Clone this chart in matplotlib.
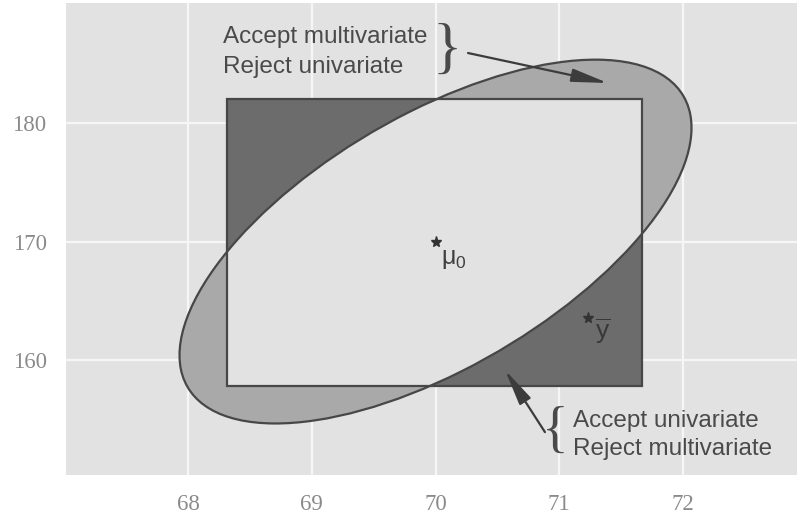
import numpy as np
import matplotlib
matplotlib.use("Agg")
import matplotlib.pyplot as plt
from matplotlib.patches import Ellipse, Rectangle

plt.rcParams['mathtext.fontset'] = 'custom'
plt.rcParams['mathtext.rm'] = 'Liberation Sans'
plt.rcParams['mathtext.it'] = 'Liberation Sans'

# hypothesised mean and sample mean
mu0 = [70.0, 170.0]
ybar = [71.23, 163.55]

# univariate acceptance limits (rectangle)
x_limits = [68.31, 71.67]
y_limits = [157.8, 182.0]

# multivariate acceptance ellipse: half extents along x and y, correlation
half_x = 2.07
half_y = 15.35
rho = 0.625

x_ticks = [68, 69, 70, 71, 72]
y_ticks = [160, 170, 180]

bg = '#e2e2e2'
dark = '#6c6c6c'
light = '#a9a9a9'
edge = '#474747'
txt = '#4a4a4a'

# ellipse from the covariance matrix
cov = np.array([[half_x**2, rho * half_x * half_y],
                [rho * half_x * half_y, half_y**2]])
vals, vecs = np.linalg.eigh(cov)
angle = np.degrees(np.arctan2(vecs[1, 1], vecs[0, 1]))
ell_w = 2 * np.sqrt(vals[1])
ell_h = 2 * np.sqrt(vals[0])

fig = plt.figure(figsize=(7.97, 5.2), dpi=100)
ax = fig.add_axes([0.0828, 0.0865, 0.9172, 0.9077])
ax.set_facecolor(bg)
ax.set_xlim(67.012, 72.923)
ax.set_ylim(150.30, 190.13)

ax.set_xticks(x_ticks)
ax.set_yticks(y_ticks)
ax.grid(True, color='#f6f6f6', linewidth=1.6)
ax.set_axisbelow(True)
for s in ax.spines.values():
    s.set_visible(False)
ax.tick_params(length=0, colors='#8a8a8a', labelsize=16.5, pad=14)
for lab in ax.get_xticklabels() + ax.get_yticklabels():
    lab.set_fontfamily('Liberation Serif')

rw = x_limits[1] - x_limits[0]
rh = y_limits[1] - y_limits[0]

# rectangle outside ellipse -> dark
ax.add_patch(Rectangle((x_limits[0], y_limits[0]), rw, rh,
                       facecolor=dark, edgecolor='none', zorder=2))
# ellipse outside rectangle -> light
ell = Ellipse(mu0, ell_w, ell_h, angle=angle, facecolor=light,
              edgecolor='none', zorder=3)
ax.add_patch(ell)
# inside both -> background
inner = Rectangle((x_limits[0], y_limits[0]), rw, rh,
                  facecolor=bg, edgecolor='none', zorder=4)
ax.add_patch(inner)
inner.set_clip_path(ell)

# outlines
ax.add_patch(Rectangle((x_limits[0], y_limits[0]), rw, rh,
                       facecolor='none', edgecolor=edge, linewidth=1.6, zorder=5))
ax.add_patch(Ellipse(mu0, ell_w, ell_h, angle=angle, facecolor='none',
                     edgecolor=edge, linewidth=1.6, zorder=5))

# points
ax.plot(*mu0, marker='*', color='#333333', markersize=8, zorder=6)
ax.plot(*ybar, marker='*', color='#333333', markersize=8, zorder=6)
ax.text(70.044, 169.5, r'$\mathrm{\mu}_0$', fontsize=18, color='#404040',
        va='top', ha='left', zorder=6)
ax.text(71.29, 163.7, r'$\overline{\mathrm{y}}$', fontsize=19, color='#383838',
        va='top', ha='left', zorder=6)

# annotations
font = dict(family='Liberation Sans', fontsize=17.5, color=txt)
ax.text(68.28, 186.75, 'Accept multivariate', va='baseline', ha='left', **font)
ax.text(68.28, 184.22, 'Reject univariate', va='baseline', ha='left', **font)
ax.text(70.09, 186.0, '}', va='center', ha='center',
        family='Liberation Serif', fontsize=44, color=txt)

ax.text(71.11, 154.35, 'Accept univariate', va='baseline', ha='left', **font)
ax.text(71.11, 151.98, 'Reject multivariate', va='baseline', ha='left', **font)
ax.text(70.97, 153.84, '{', va='center', ha='center',
        family='Liberation Serif', fontsize=40, color=txt)

arrow = dict(arrowstyle='-|>,head_length=2.2,head_width=0.4', color='#3c3c3c',
             linewidth=1.6, mutation_scale=10, shrinkA=0, shrinkB=0)
ax.annotate('', xy=(71.394, 183.38), xytext=(70.263, 185.91),
            arrowprops=arrow, zorder=7)
ax.annotate('', xy=(70.562, 159.16), xytext=(70.885, 153.92),
            arrowprops=arrow, zorder=7)

fig.savefig('out.png', dpi=100)
plt.close(fig)
